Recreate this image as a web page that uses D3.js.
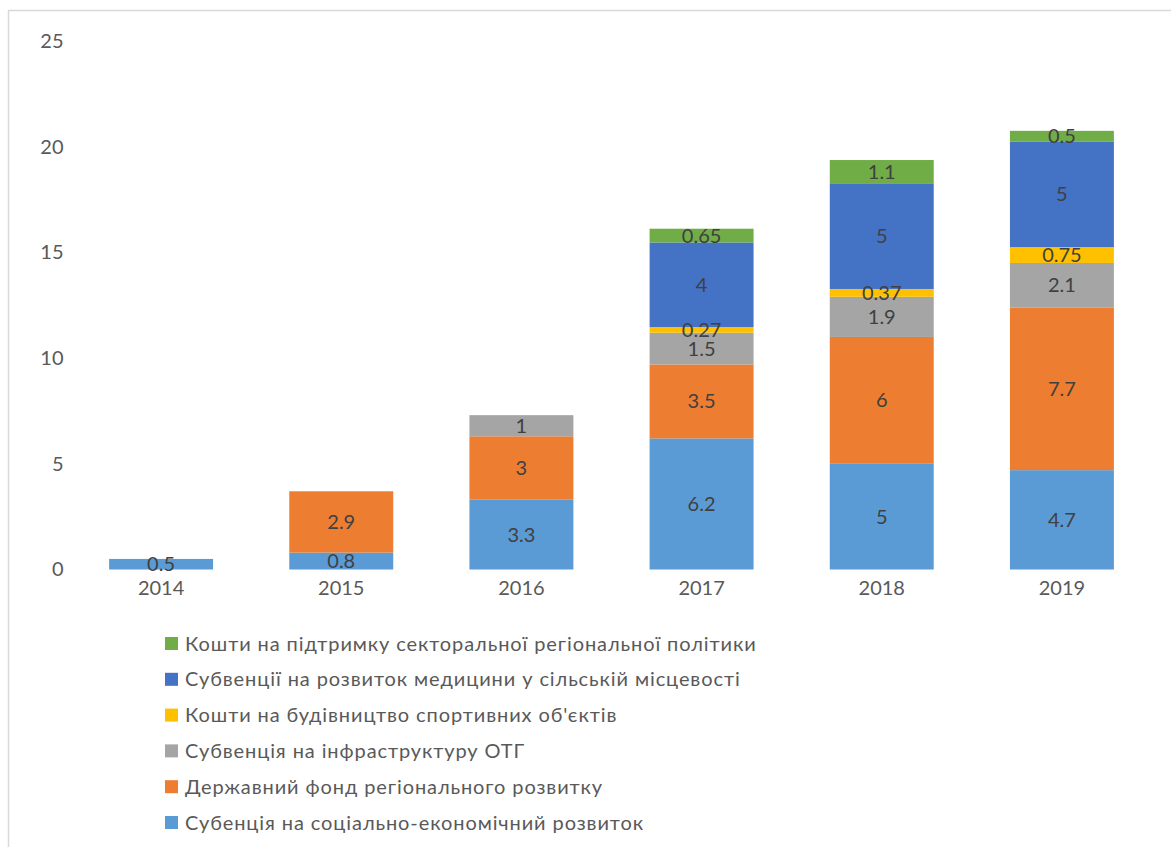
<!DOCTYPE html>
<html>
<head>
<meta charset="utf-8">
<script src="https://cdn.jsdelivr.net/npm/d3@7"></script>
<style>
  html, body { margin: 0; padding: 0; background: #fff; }
  svg { display: block; }
</style>
</head>
<body>
<svg id="chart" width="1171" height="847"></svg>
<script>
// Years on the category axis
const years = ["2014", "2015", "2016", "2017", "2018", "2019"];

// Series, bottom of the stack first
const seriesNames = [
  "Субенція на соціально-економічний розвиток",
  "Державний фонд регіонального розвитку",
  "Субвенція на інфраструктуру ОТГ",
  "Кошти на будівництво спортивних об'єктів",
  "Субвенції на розвиток медицини у сільській місцевості",
  "Кошти на підтримку секторальної регіональної політики"
];
const seriesColors = ["#5B9BD5", "#ED7D31", "#A5A5A5", "#FFC000", "#4472C4", "#70AD47"];

// Values per series, one per year (null = no bar)
const socialEconomic = [0.5, 0.8, 3.3, 6.2, 5, 4.7];
const regionalFund   = [null, 2.9, 3, 3.5, 6, 7.7];
const infrastructure = [null, null, 1, 1.5, 1.9, 2.1];
const sportFacilities = [null, null, null, 0.27, 0.37, 0.75];
const ruralMedicine  = [null, null, null, 4, 5, 5];
const sectoralPolicy = [null, null, null, 0.65, 1.1, 0.5];

const yTicks = [0, 5, 10, 15, 20, 25];

const seriesValues = [socialEconomic, regionalFund, infrastructure, sportFacilities, ruralMedicine, sectoralPolicy];

const rows = years.map((y, i) => {
  const r = { year: y };
  seriesNames.forEach((s, k) => { r[s] = seriesValues[k][i] || 0; });
  return r;
});

const layers = d3.stack().keys(seriesNames)(rows);

const svg = d3.select("#chart");
const FONT = "Lato, 'Open Sans', sans-serif";

// Chart frame
svg.append("rect")
  .attr("x", 8.5).attr("y", 10.5)
  .attr("width", 1200).attr("height", 900)
  .attr("fill", "#fff")
  .attr("stroke", "#d9d9d9").attr("stroke-width", 1.5);

const x = d3.scaleBand().domain(years).range([71, 1152]).paddingInner(0.423).paddingOuter(0.2115);
const y = d3.scaleLinear().domain([0, 25]).range([569.5, 41]);

// Y axis labels
const yAxis = svg.append("g").attr("transform", "translate(63.5,0)")
  .call(d3.axisLeft(y).tickValues(yTicks).tickSize(0).tickPadding(0).tickFormat(d3.format("d")));
yAxis.select(".domain").remove();
yAxis.selectAll("text")
  .attr("font-family", FONT).attr("font-size", 20).attr("fill", "#595959");

// Stacked bars
const g = svg.append("g");
layers.forEach((layer, k) => {
  layer.forEach((d, i) => {
    const v = seriesValues[k][i];
    if (v == null) return;
    g.append("rect")
      .attr("x", x(years[i]))
      .attr("width", x.bandwidth())
      .attr("y", y(d[1]))
      .attr("height", y(d[0]) - y(d[1]))
      .attr("fill", seriesColors[k]);
  });
});

// Data labels centred in each segment
layers.forEach((layer, k) => {
  layer.forEach((d, i) => {
    const v = seriesValues[k][i];
    if (v == null) return;
    g.append("text")
      .attr("x", x(years[i]) + x.bandwidth() / 2)
      .attr("y", (y(d[0]) + y(d[1])) / 2)
      .attr("dy", "0.35em")
      .attr("text-anchor", "middle")
      .attr("font-family", FONT).attr("font-size", 20)
      .attr("fill", "#404040")
      .text(v);
  });
});

// X axis labels
const xAxis = svg.append("g").attr("transform", "translate(0,587.5)")
  .call(d3.axisBottom(x).tickSize(0).tickPadding(0));
xAxis.select(".domain").remove();
xAxis.selectAll("text")
  .attr("dy", "0.35em")
  .attr("font-family", FONT).attr("font-size", 20).attr("fill", "#595959");

// Legend, top entry is the top of the stack
const legendOrder = seriesNames.map((s, k) => k).reverse();
const legend = svg.append("g");
legendOrder.forEach((k, j) => {
  const cy = 643.5 + j * 35.8;
  legend.append("rect")
    .attr("x", 165).attr("y", cy - 6.5)
    .attr("width", 13).attr("height", 13)
    .attr("fill", seriesColors[k]);
  legend.append("text")
    .attr("x", 185).attr("y", cy)
    .attr("dy", "0.35em")
    .attr("font-family", FONT).attr("font-size", 20)
    .attr("letter-spacing", "0.9px")
    .attr("fill", "#595959")
    .text(seriesNames[k]);
});
</script>
</body>
</html>
